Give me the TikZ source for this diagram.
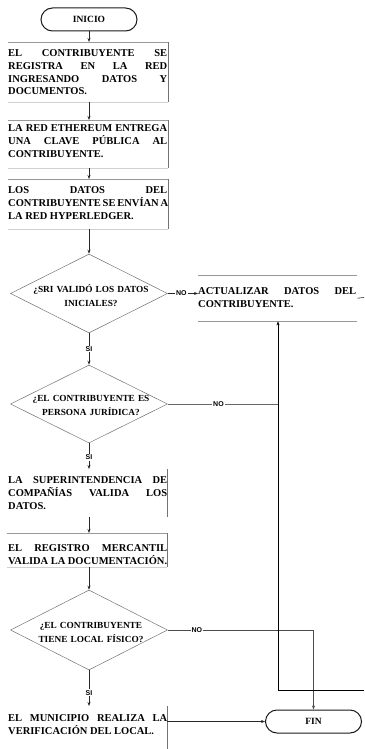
\documentclass[tikz,border=0pt]{standalone}
\usepackage{fontspec}
\setmainfont{Liberation Serif}
\setsansfont{Liberation Sans}
\usetikzlibrary{shapes.geometric,shapes.misc,arrows.meta,calc}
\newcommand\jl[1]{{\spaceskip=0.22em plus 1fil minus 0.05em\makebox[159pt][s]{#1}}}
\newcommand\jla[1]{{\spaceskip=0.22em plus 1fil minus 0.05em\makebox[158pt][s]{#1}}}
\newcommand\lastl[1]{{\spaceskip=0.24em\mbox{#1}}}
\tikzset{
  boxs/.style={inner sep=0pt, minimum width=160pt, anchor=north west},
  txt/.style={inner sep=0pt, text width=159pt, align=left, anchor=base west,
    font=\fontsize{10.5}{12.8}\selectfont\bfseries},
  dec/.style={diamond, draw=black!55, line width=0.5pt, inner sep=0pt,
    minimum width=157pt},
  dtxt/.style={inner sep=0pt, text width=150pt, align=center, anchor=base,
    font=\fontsize{9.3}{13.5}\selectfont\bfseries},
  term/.style={rounded rectangle, draw=black!90, line width=1pt, minimum width=96pt,
    minimum height=23pt, inner sep=0pt, font=\fontsize{9.5}{11}\selectfont\bfseries},
  lbl/.style={fill=white, inner sep=1pt, font=\sffamily\bfseries\fontsize{7}{8}\selectfont},
  arr/.style={-{Stealth[length=4pt,width=3pt]}, draw=black!85, line width=0.6pt},
  conn/.style={draw=black!85, line width=0.6pt},
  topb/.style={draw=black!40, line width=0.6pt},
  sideb/.style={draw=black!55, line width=0.7pt},
  botb/.style={draw=black!18, line width=0.6pt},
}
\begin{document}
\begin{tikzpicture}[x=1pt,y=-1pt]
\useasboundingbox (0,0) rectangle (364,749);

% terminators
\node[term] (inicio) at (89,19.5) {INICIO};
\node[term] (fin) at (313.5,721.5) {FIN};

% process boxes
\node[boxs, minimum height=60pt] (b1) at (8,42) {};
\node[boxs, minimum height=48pt] (b2) at (8,120) {};
\node[boxs, minimum height=50pt] (b3) at (8,179) {};
\node[inner sep=0pt, minimum width=159pt, minimum height=46pt, anchor=north west] (act) at (198,275) {};
\node[boxs, minimum height=48pt] (b4) at (7,469) {};
\node[boxs, minimum height=34pt] (b5) at (7,533) {};
\node[boxs, minimum height=43pt] (b6) at (7,706) {};

% box borders
\foreach \b in {b1,b2,b3,b5}{
  \draw[topb] (\b.north west) -- (\b.north east);
  \draw[sideb] (\b.north east) -- (\b.south east);
  \draw[botb] (\b.south west) -- (\b.south east);
}
\draw[sideb] (b4.north east) -- (b4.south east);
\draw[sideb] (b6.north east) -- (b6.south east);
\draw[topb] (act.north west) -- (act.north east);
\draw[topb] (act.south west) -- (act.south east);

% texts
\node[txt] (t1) at (8,56.5) {\jl{EL CONTRIBUYENTE SE}\\\jl{REGISTRA EN LA RED}\\\jl{INGRESANDO DATOS Y}\\\lastl{DOCUMENTOS.}};
\node[txt] (t2) at (8,131.5) {\jl{LA RED ETHEREUM ENTREGA}\\\jl{UNA CLAVE PÚBLICA AL}\\\lastl{CONTRIBUYENTE.}};
\node[txt] (t3) at (8,193.5) {\jl{LOS DATOS DEL}\\\jl{CONTRIBUYENTE SE ENVÍAN A}\\\lastl{LA RED HYPERLEDGER.}};
\node[txt] (ta) at (198,294.5) {\jla{ACTUALIZAR DATOS DEL}\\\lastl{CONTRIBUYENTE.}};
\node[txt] (t4) at (8,483.5) {\jl{LA SUPERINTENDENCIA DE}\\\jl{COMPAÑÍAS VALIDA LOS}\\\lastl{DATOS.}};
\node[txt] (t5) at (8,551.5) {\jl{EL REGISTRO MERCANTIL}\\\lastl{VALIDA LA DOCUMENTACIÓN.}};
\node[txt] (t6) at (8,721.5) {\jl{EL MUNICIPIO REALIZA LA}\\\lastl{VERIFICACIÓN DEL LOCAL.}};

% decisions
\node[dec, minimum height=79pt] (d1) at (89,293.5) {};
\node[dec, minimum height=78pt] (d2) at (89,404) {};
\node[dec, minimum height=80pt] (d3) at (89,630) {};
\node[dtxt] (dt1) at (91,292.5) {¿SRI VALIDÓ LOS DATOS\\INICIALES?};
\node[dtxt] (dt2) at (91,401.5) {¿EL CONTRIBUYENTE ES\\PERSONA JURÍDICA?};
\node[dtxt] (dt3) at (91,628.5) {¿EL CONTRIBUYENTE\\TIENE LOCAL FÍSICO?};

% coordinates
\coordinate (j1) at (278,404);
\coordinate (lp) at (278,690);
\coordinate (lr) at (364,690);
\coordinate (ar) at (364,297.5);

% connectors
\draw[arr] (inicio.south) -- (b1.north -| inicio.south);
\draw[arr] (b1.south -| inicio.south) -- (b2.north -| inicio.south);
\draw[arr] (b2.south -| inicio.south) -- (b3.north -| inicio.south);
\draw[arr] (b3.south -| inicio.south) -- (d1.north);
\draw[arr] (d1.east) -- node[lbl, pos=0.45]{NO} (d1.east -| act.west);
\draw[arr] (d1.south) -- node[lbl]{SI} (d2.north);
\draw[conn, draw=black!60] (d2.east) -- node[lbl, pos=0.46]{NO} (j1);
\draw[arr] (d2.south) -- node[lbl, pos=0.55]{SI} (b4.north -| d2.south);
\draw[arr] (b4.south -| d2.south) -- (b5.north -| d2.south);
\draw[arr] (b5.south -| d2.south) -- (d3.north);
\draw[arr, draw=black!70] (d3.east) -- node[lbl, pos=0.2]{NO} (d3.east -| fin.north) -- (fin.north);
\draw[arr] (d3.south) -- node[lbl, pos=0.63]{SI} (b6.north -| d3.south);
\draw[arr] (b6.east |- fin.west) -- (fin.west);
\draw[arr, draw=black] (lr) -- (lp) -- (act.south -| lp);
\draw[conn] (act.east) -- (ar);
\end{tikzpicture}
\end{document}
